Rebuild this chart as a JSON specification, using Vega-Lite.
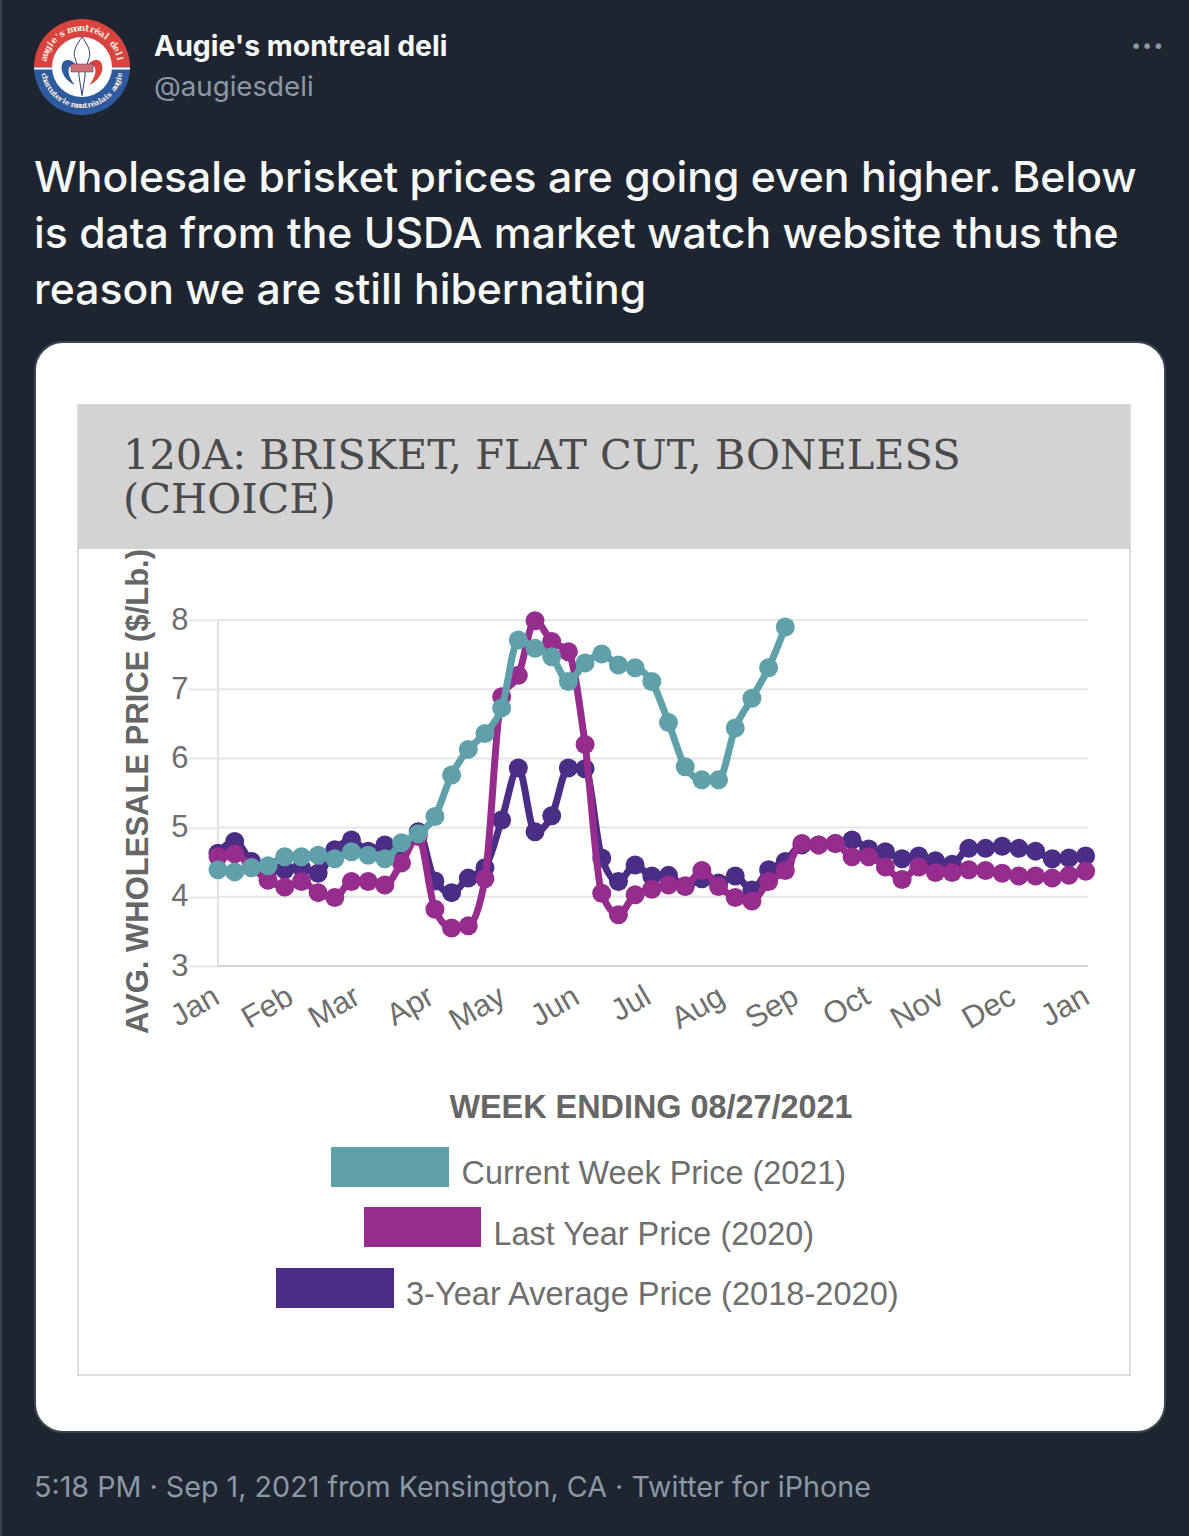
{"$schema":"https://vega.github.io/schema/vega-lite/v6.json","width":870,"height":346,"padding":{"left":218,"top":620,"right":101,"bottom":570},"autosize":{"type":"none"},"background":"#1f2530","config":{"view":{"stroke":null}},
"datasets":{
"avg3":[{"week":"2021-01-01","price":4.63},{"week":"2021-01-08","price":4.8},{"week":"2021-01-15","price":4.51},{"week":"2021-01-22","price":4.38},{"week":"2021-01-29","price":4.39},{"week":"2021-02-05","price":4.42},{"week":"2021-02-12","price":4.34},{"week":"2021-02-19","price":4.68},{"week":"2021-02-26","price":4.82},{"week":"2021-03-05","price":4.66},{"week":"2021-03-12","price":4.75},{"week":"2021-03-19","price":4.68},{"week":"2021-03-26","price":4.94},{"week":"2021-04-02","price":4.23},{"week":"2021-04-09","price":4.06},{"week":"2021-04-16","price":4.27},{"week":"2021-04-23","price":4.42},{"week":"2021-04-30","price":5.11},{"week":"2021-05-07","price":5.86},{"week":"2021-05-14","price":4.94},{"week":"2021-05-21","price":5.17},{"week":"2021-05-28","price":5.86},{"week":"2021-06-04","price":5.85},{"week":"2021-06-11","price":4.56},{"week":"2021-06-18","price":4.22},{"week":"2021-06-25","price":4.46},{"week":"2021-07-02","price":4.3},{"week":"2021-07-09","price":4.31},{"week":"2021-07-16","price":4.15},{"week":"2021-07-23","price":4.26},{"week":"2021-07-30","price":4.2},{"week":"2021-08-06","price":4.3},{"week":"2021-08-13","price":4.1},{"week":"2021-08-20","price":4.39},{"week":"2021-08-27","price":4.51},{"week":"2021-09-03","price":4.75},{"week":"2021-09-10","price":4.75},{"week":"2021-09-17","price":4.77},{"week":"2021-09-24","price":4.82},{"week":"2021-10-01","price":4.69},{"week":"2021-10-08","price":4.65},{"week":"2021-10-15","price":4.55},{"week":"2021-10-22","price":4.59},{"week":"2021-10-29","price":4.52},{"week":"2021-11-05","price":4.47},{"week":"2021-11-12","price":4.7},{"week":"2021-11-19","price":4.7},{"week":"2021-11-26","price":4.73},{"week":"2021-12-03","price":4.7},{"week":"2021-12-10","price":4.66},{"week":"2021-12-17","price":4.55},{"week":"2021-12-24","price":4.56},{"week":"2021-12-31","price":4.59}],
"lastYear":[{"week":"2021-01-01","price":4.58},{"week":"2021-01-08","price":4.62},{"week":"2021-01-15","price":4.43},{"week":"2021-01-22","price":4.24},{"week":"2021-01-29","price":4.14},{"week":"2021-02-05","price":4.22},{"week":"2021-02-12","price":4.06},{"week":"2021-02-19","price":3.99},{"week":"2021-02-26","price":4.22},{"week":"2021-03-05","price":4.22},{"week":"2021-03-12","price":4.17},{"week":"2021-03-19","price":4.49},{"week":"2021-03-26","price":4.87},{"week":"2021-04-02","price":3.82},{"week":"2021-04-09","price":3.55},{"week":"2021-04-16","price":3.58},{"week":"2021-04-23","price":4.26},{"week":"2021-04-30","price":6.89},{"week":"2021-05-07","price":7.2},{"week":"2021-05-14","price":7.99},{"week":"2021-05-21","price":7.69},{"week":"2021-05-28","price":7.54},{"week":"2021-06-04","price":6.2},{"week":"2021-06-11","price":4.05},{"week":"2021-06-18","price":3.74},{"week":"2021-06-25","price":4.03},{"week":"2021-07-02","price":4.11},{"week":"2021-07-09","price":4.17},{"week":"2021-07-16","price":4.16},{"week":"2021-07-23","price":4.38},{"week":"2021-07-30","price":4.15},{"week":"2021-08-06","price":3.99},{"week":"2021-08-13","price":3.94},{"week":"2021-08-20","price":4.22},{"week":"2021-08-27","price":4.38},{"week":"2021-09-03","price":4.77},{"week":"2021-09-10","price":4.75},{"week":"2021-09-17","price":4.77},{"week":"2021-09-24","price":4.58},{"week":"2021-10-01","price":4.58},{"week":"2021-10-08","price":4.43},{"week":"2021-10-15","price":4.25},{"week":"2021-10-22","price":4.43},{"week":"2021-10-29","price":4.35},{"week":"2021-11-05","price":4.35},{"week":"2021-11-12","price":4.39},{"week":"2021-11-19","price":4.38},{"week":"2021-11-26","price":4.34},{"week":"2021-12-03","price":4.3},{"week":"2021-12-10","price":4.3},{"week":"2021-12-17","price":4.27},{"week":"2021-12-24","price":4.31},{"week":"2021-12-31","price":4.37}],
"current":[{"week":"2021-01-01","price":4.39},{"week":"2021-01-08","price":4.36},{"week":"2021-01-15","price":4.42},{"week":"2021-01-22","price":4.45},{"week":"2021-01-29","price":4.58},{"week":"2021-02-05","price":4.58},{"week":"2021-02-12","price":4.6},{"week":"2021-02-19","price":4.55},{"week":"2021-02-26","price":4.65},{"week":"2021-03-05","price":4.6},{"week":"2021-03-12","price":4.55},{"week":"2021-03-19","price":4.78},{"week":"2021-03-26","price":4.91},{"week":"2021-04-02","price":5.16},{"week":"2021-04-09","price":5.76},{"week":"2021-04-16","price":6.13},{"week":"2021-04-23","price":6.36},{"week":"2021-04-30","price":6.73},{"week":"2021-05-07","price":7.71},{"week":"2021-05-14","price":7.59},{"week":"2021-05-21","price":7.47},{"week":"2021-05-28","price":7.11},{"week":"2021-06-04","price":7.38},{"week":"2021-06-11","price":7.51},{"week":"2021-06-18","price":7.35},{"week":"2021-06-25","price":7.31},{"week":"2021-07-02","price":7.11},{"week":"2021-07-09","price":6.52},{"week":"2021-07-16","price":5.88},{"week":"2021-07-23","price":5.69},{"week":"2021-07-30","price":5.69},{"week":"2021-08-06","price":6.44},{"week":"2021-08-13","price":6.87},{"week":"2021-08-20","price":7.31},{"week":"2021-08-27","price":7.9}],
"grid":[{"price":4},{"price":5},{"price":6},{"price":7},{"price":8}],
"topLetters":[{"i":0,"ch":"a"},{"i":1,"ch":"u"},{"i":2,"ch":"g"},{"i":3,"ch":"i"},{"i":4,"ch":"e"},{"i":5,"ch":"'"},{"i":6,"ch":"s"},{"i":8,"ch":"m"},{"i":9,"ch":"o"},{"i":10,"ch":"n"},{"i":11,"ch":"t"},{"i":12,"ch":"r"},{"i":13,"ch":"é"},{"i":14,"ch":"a"},{"i":15,"ch":"l"},{"i":17,"ch":"d"},{"i":18,"ch":"e"},{"i":19,"ch":"l"},{"i":20,"ch":"i"}],
"bottomLetters":[{"i":0,"ch":"c"},{"i":1,"ch":"h"},{"i":2,"ch":"a"},{"i":3,"ch":"r"},{"i":4,"ch":"c"},{"i":5,"ch":"u"},{"i":6,"ch":"t"},{"i":7,"ch":"e"},{"i":8,"ch":"r"},{"i":9,"ch":"i"},{"i":10,"ch":"e"},{"i":12,"ch":"m"},{"i":13,"ch":"o"},{"i":14,"ch":"n"},{"i":15,"ch":"t"},{"i":16,"ch":"r"},{"i":17,"ch":"é"},{"i":18,"ch":"a"},{"i":19,"ch":"l"},{"i":20,"ch":"a"},{"i":21,"ch":"i"},{"i":22,"ch":"s"},{"i":24,"ch":"a"},{"i":25,"ch":"u"},{"i":26,"ch":"g"},{"i":27,"ch":"i"},{"i":28,"ch":"e"}]
},
"layer":[
{"data":{"values":[{}]},"mark":{"type":"rect","x":-218,"x2":-216,"y":-620,"y2":916,"fill":"#37404c"},"encoding":{}},
{"data":{"values":[{}]},"mark":{"type":"rect","x":-183,"x2":947,"y":-278,"y2":812,"fill":"#ffffff","stroke":"#3d4550","strokeWidth":2,"cornerRadius":28},"encoding":{}},
{"data":{"values":[{}]},"mark":{"type":"rect","x":-140,"x2":912,"y":-215,"y2":755,"fill":"#ffffff","stroke":"#dcdcdc","strokeWidth":2},"encoding":{}},
{"data":{"values":[{}]},"mark":{"type":"rect","x":-140,"x2":912,"y":-215,"y2":-71,"fill":"#d3d3d3"},"encoding":{}},
{"data":{"values":[{}]},"mark":{"type":"arc","x":-136,"y":-553,"radius":48,"radius2":0,"theta":-1.5708,"theta2":1.5708,"fill":"#d8433f"},"encoding":{}},
{"data":{"values":[{}]},"mark":{"type":"arc","x":-136,"y":-553,"radius":48,"radius2":0,"theta":1.5708,"theta2":4.7124,"fill":"#2e5aa0"},"encoding":{}},
{"data":{"values":[{}]},"mark":{"type":"rect","x":-184,"x2":-88,"y":-552.5,"y2":-550.5,"fill":"#ffffff"},"encoding":{}},
{"data":{"values":[{}]},"mark":{"type":"arc","x":-136,"y":-553,"radius":30,"radius2":0,"theta":0,"theta2":6.2832,"fill":"#ffffff"},"encoding":{}},
{"data":{"name":"topLetters"},"mark":{"type":"text","x":-136,"y":-553,"font":"DejaVu Serif","fontWeight":"bold","fontSize":9,"fill":"#fbe9dc","align":"center","baseline":"middle"},"encoding":{"text":{"field":"ch"},"radius":{"value":39},"theta":{"field":"i","type":"quantitative","scale":{"domain":[0,20],"range":[-1.35,1.35]}},"angle":{"field":"i","type":"quantitative","legend":null,"scale":{"domain":[0,20],"range":[-77,77]}}}},
{"data":{"name":"bottomLetters"},"mark":{"type":"text","x":-136,"y":-553,"font":"DejaVu Serif","fontWeight":"bold","fontSize":7.5,"fill":"#fbe9dc","align":"center","baseline":"middle"},"encoding":{"text":{"field":"ch"},"radius":{"value":39},"theta":{"field":"i","type":"quantitative","scale":{"domain":[0,28],"range":[4.5,1.78]}},"angle":{"field":"i","type":"quantitative","legend":null,"scale":{"domain":[0,28],"range":[78,-78]}}}},
{"data":{"values":[{}]},"mark":{"type":"point","x":-136,"y":-553,"size":3600,"filled":true,"opacity":1,"fill":"#ffffff","stroke":"#2b3f6e","strokeWidth":1,"shape":"M0,-1 C-.15,-.8 -.3,-.55 -.25,-.35 C-.2,-.15 -.1,0 -.1,.3 L0,.95 L.1,.3 C.1,0 .2,-.15 .25,-.35 C.3,-.55 .15,-.8 0,-1 Z"},"encoding":{}},
{"data":{"values":[{}]},"mark":{"type":"point","x":-136,"y":-553,"size":3600,"filled":true,"opacity":1,"fill":"#2e5aa0","strokeWidth":0,"shape":"M-.15,0 C-.3,-.3 -.7,-.35 -.68,.05 C-.66,.3 -.45,.5 -.25,.6 C-.45,.3 -.5,.1 -.4,-.02 C-.32,-.1 -.2,-.05 -.15,0 Z"},"encoding":{}},
{"data":{"values":[{}]},"mark":{"type":"point","x":-136,"y":-553,"size":3600,"filled":true,"opacity":1,"fill":"#d8433f","strokeWidth":0,"shape":"M.15,0 C.3,-.3 .7,-.35 .68,.05 C.66,.3 .45,.5 .25,.6 C.45,.3 .5,.1 .4,-.02 C.32,-.1 .2,-.05 .15,0 Z"},"encoding":{}},
{"data":{"values":[{}]},"mark":{"type":"rect","x":-147,"x2":-125,"y":-556,"y2":-548,"fill":"#cf6f74","stroke":"#2b3f6e","strokeWidth":0.5},"encoding":{}},
{"data":{"values":[{"label":"Augie's montreal deli"}]},"mark":{"type":"text","x":-64,"y":-564,"align":"left","baseline":"alphabetic","font":"Inter","fontWeight":"bold","fontSize":28.4,"fill":"#f7f9f9"},"encoding":{"text":{"field":"label"}}},
{"data":{"values":[{"label":"@augiesdeli"}]},"mark":{"type":"text","x":-64,"y":-524,"align":"left","baseline":"alphabetic","font":"Inter","fontSize":27.7,"fill":"#8b98a5"},"encoding":{"text":{"field":"label"}}},
{"data":{"values":[{"label":"•••"}]},"mark":{"type":"text","x":946,"y":-567,"align":"right","baseline":"alphabetic","font":"DejaVu Sans","fontSize":19,"fill":"#8b98a5"},"encoding":{"text":{"field":"label"}}},
{"data":{"values":[{"label":"Wholesale brisket prices are going even higher. Below"}]},"mark":{"type":"text","x":-184,"y":-428,"align":"left","baseline":"alphabetic","font":"Inter","fontWeight":500,"fontSize":42.7,"fill":"#f7f9f9"},"encoding":{"text":{"field":"label"}}},
{"data":{"values":[{"label":"is data from the USDA market watch website thus the"}]},"mark":{"type":"text","x":-184,"y":-372,"align":"left","baseline":"alphabetic","font":"Inter","fontWeight":500,"fontSize":42.7,"fill":"#f7f9f9"},"encoding":{"text":{"field":"label"}}},
{"data":{"values":[{"label":"reason we are still hibernating"}]},"mark":{"type":"text","x":-184,"y":-316,"align":"left","baseline":"alphabetic","font":"Inter","fontWeight":500,"fontSize":42.7,"fill":"#f7f9f9"},"encoding":{"text":{"field":"label"}}},
{"data":{"values":[{"label":"5:18 PM · Sep 1, 2021 from Kensington, CA · Twitter for iPhone"}]},"mark":{"type":"text","x":-184,"y":877,"align":"left","baseline":"alphabetic","font":"Inter","fontSize":28.7,"fill":"#8b98a5"},"encoding":{"text":{"field":"label"}}},
{"data":{"values":[{"label":"120A: BRISKET, FLAT CUT, BONELESS"}]},"mark":{"type":"text","x":-95,"y":-151.5,"align":"left","baseline":"alphabetic","font":"DejaVu Serif","fontSize":41.5,"fill":"#4a4a4a"},"encoding":{"text":{"field":"label"}}},
{"data":{"values":[{"label":"(CHOICE)"}]},"mark":{"type":"text","x":-95,"y":-107.5,"align":"left","baseline":"alphabetic","font":"DejaVu Serif","fontSize":41.5,"fill":"#4a4a4a"},"encoding":{"text":{"field":"label"}}},
{"data":{"values":[{"label":"WEEK ENDING 08/27/2021"}]},"mark":{"type":"text","x":433,"y":498,"align":"center","baseline":"alphabetic","font":"Liberation Sans","fontWeight":"bold","fontSize":32.4,"fill":"#666666"},"encoding":{"text":{"field":"label"}}},
{"data":{"values":[{"label":"Current Week Price (2021)"}]},"mark":{"type":"text","x":243.5,"y":564,"align":"left","baseline":"alphabetic","font":"Liberation Sans","fontSize":32.4,"fill":"#6e6e6e"},"encoding":{"text":{"field":"label"}}},
{"data":{"values":[{"label":"Last Year Price (2020)"}]},"mark":{"type":"text","x":275.5,"y":625,"align":"left","baseline":"alphabetic","font":"Liberation Sans","fontSize":32.4,"fill":"#6e6e6e"},"encoding":{"text":{"field":"label"}}},
{"data":{"values":[{"label":"3-Year Average Price (2018-2020)"}]},"mark":{"type":"text","x":188,"y":685,"align":"left","baseline":"alphabetic","font":"Liberation Sans","fontSize":32.6,"fill":"#6e6e6e"},"encoding":{"text":{"field":"label"}}},
{"data":{"values":[{}]},"mark":{"type":"rect","x":113,"x2":231,"y":527,"y2":567,"fill":"#5fa0aa"},"encoding":{}},
{"data":{"values":[{}]},"mark":{"type":"rect","x":146,"x2":263,"y":587,"y2":627,"fill":"#962c8e"},"encoding":{}},
{"data":{"values":[{}]},"mark":{"type":"rect","x":58,"x2":176,"y":648,"y2":688,"fill":"#4a2d85"},"encoding":{}},
{"data":{"name":"grid"},"mark":{"type":"rule","stroke":"#e6e6e6","strokeWidth":2},"encoding":{"y":{"field":"price","type":"quantitative","scale":{"domain":[3,8],"nice":false}}}},
{"data":{"values":[{"price":3}]},"mark":{"type":"rule","stroke":"#d4d4d4","strokeWidth":2},"encoding":{"y":{"field":"price","type":"quantitative"}}},
{"data":{"values":[{"week":"2021-01-01"}]},"mark":{"type":"rule","stroke":"#e2e2e2","strokeWidth":2},"encoding":{"x":{"field":"week","type":"temporal"}}},
{"data":{"name":"avg3"},"mark":{"type":"line","interpolate":"monotone","strokeWidth":7,"point":{"filled":true,"size":361,"opacity":1}},"encoding":{"x":{"field":"week","type":"temporal"},"y":{"field":"price","type":"quantitative"},"color":{"datum":"3-Year Average Price (2018-2020)"}}},
{"data":{"name":"lastYear"},"mark":{"type":"line","interpolate":"monotone","strokeWidth":7,"point":{"filled":true,"size":361,"opacity":1}},"encoding":{"x":{"field":"week","type":"temporal"},"y":{"field":"price","type":"quantitative"},"color":{"datum":"Last Year Price (2020)"}}},
{"data":{"name":"current"},"mark":{"type":"line","interpolate":"monotone","strokeWidth":7,"point":{"filled":true,"size":361,"opacity":1}},"encoding":{
"x":{"field":"week","type":"temporal","title":null,"scale":{"type":"utc","domain":[{"year":2021,"month":1,"date":1,"utc":true},{"year":2022,"month":1,"date":1,"utc":true}]},"axis":{"zindex":1,"domain":false,"ticks":false,"grid":false,"tickCount":{"interval":"month","step":1},"format":"%b","labelAngle":-30,"labelAlign":"right","labelBaseline":"top","labelPadding":15,"labelOffset":-9,"labelFont":"Liberation Sans","labelFontSize":31,"labelColor":"#6e6e6e","labelOverlap":false,"labelFlush":false}},
"y":{"field":"price","type":"quantitative","scale":{"domain":[3,8],"nice":false},"axis":{"zindex":1,"domain":false,"grid":false,"values":[3,4,5,6,7,8],"format":"d","tickSize":30,"tickColor":"#e6e6e6","tickWidth":2,"labelPadding":0,"labelFont":"Liberation Sans","labelFontSize":31,"labelColor":"#6e6e6e","title":"AVG. WHOLESALE PRICE ($/Lb.)","titleFont":"Liberation Sans","titleFontSize":31,"titleFontWeight":"bold","titleColor":"#666666","titleX":-64,"titleY":171}},
"color":{"datum":"Current Week Price (2021)","legend":null,"scale":{"domain":["Current Week Price (2021)","Last Year Price (2020)","3-Year Average Price (2018-2020)"],"range":["#5fa0aa","#962c8e","#4a2d85"]}}}}
],
"resolve":{"scale":{"theta":"independent","angle":"independent"}}
}
